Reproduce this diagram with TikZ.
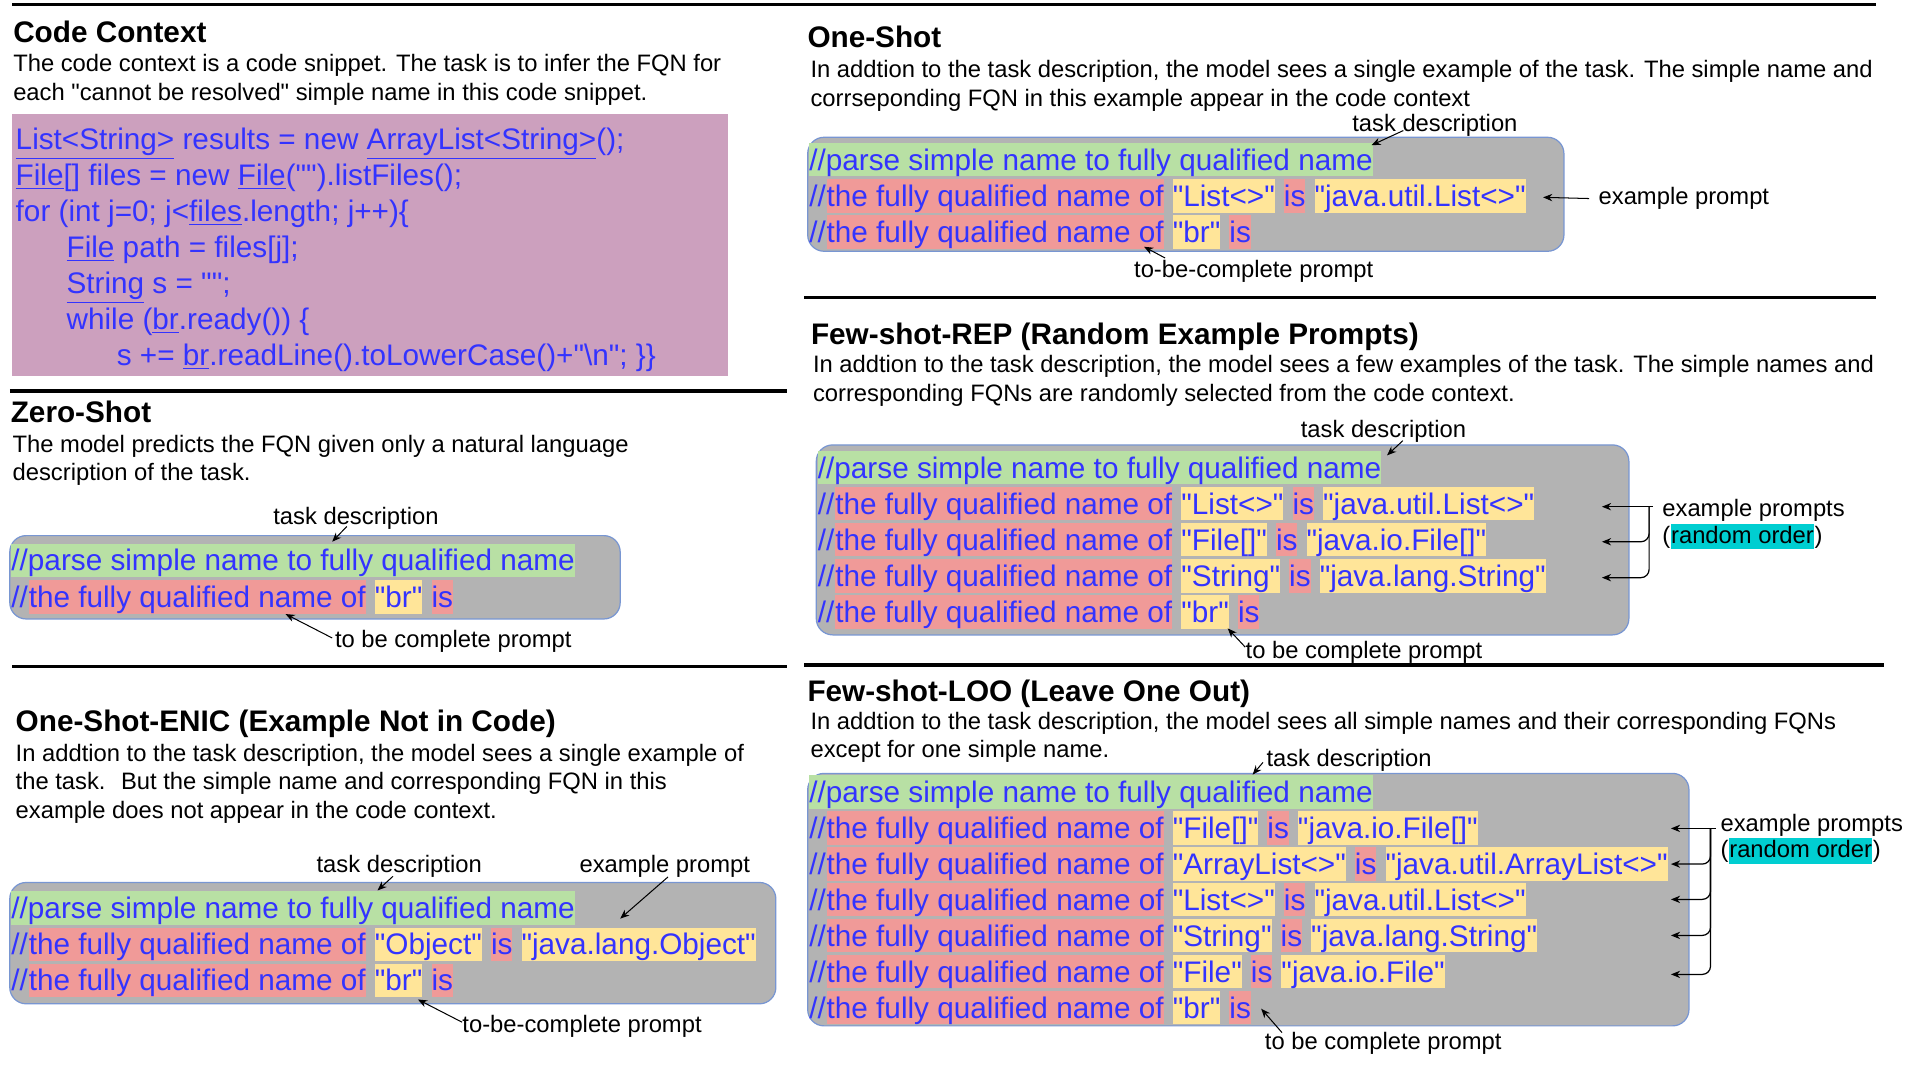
\documentclass[tikz,border=0pt]{standalone}
\usepackage{fontspec}
\setmainfont{Liberation Sans}[Ligatures=TeXOff]
\usetikzlibrary{arrows.meta}
\definecolor{codeblue}{RGB}{51,51,255}
\definecolor{codepink}{RGB}{204,160,190}
\definecolor{boxgray}{RGB}{179,179,179}
\definecolor{boxedge}{RGB}{120,150,210}
\definecolor{hlgreen}{RGB}{184,224,164}
\definecolor{hlpink}{RGB}{240,154,152}
\definecolor{hlyellow}{RGB}{255,229,153}
\definecolor{hlcyan}{RGB}{0,206,209}
\newcommand\bodyfont{\fontsize{11.64pt}{14pt}\selectfont}
\newcommand\bigfont{\fontsize{14.55pt}{17pt}\selectfont}
\def\gapw{4.05pt}
% task-description row
\newcommand{\trow}[3]{%
  \node[seggreen] (#1) at (#2,#3) {//parse simple name to fully qualified name};}
% example row
\newcommand{\exrow}[5]{%
  \node[segplain] (#1a) at (#2,#3) {//};
  \node[segpink] (#1b) at (#1a.base east) {the fully qualified name of};
  \node[segyel] (#1c) at ([xshift=\gapw]#1b.base east) {"#4"};
  \node[segpink] (#1d) at ([xshift=\gapw]#1c.base east) {is};
  \node[segyel] (#1e) at ([xshift=\gapw]#1d.base east) {"#5"};}
% to-be-completed row
\newcommand{\qrow}[4]{%
  \node[segplain] (#1a) at (#2,#3) {//};
  \node[segpink] (#1b) at (#1a.base east) {the fully qualified name of};
  \node[segyel] (#1c) at ([xshift=\gapw]#1b.base east) {"#4"};
  \node[segpink] (#1d) at ([xshift=\gapw]#1c.base east) {is};}
\begin{document}
\begin{tikzpicture}[x=0.6pt,y=-0.6pt,
  body/.style={font=\bodyfont, inner sep=0pt, anchor=base west},
  head/.style={font=\bigfont\bfseries, inner sep=0pt, anchor=base west},
  seg/.style={font=\bigfont, text=codeblue, inner sep=0pt, anchor=base west, text height=13.3pt, text depth=3pt},
  segplain/.style={seg},
  seggreen/.style={seg, fill=hlgreen},
  segpink/.style={seg, fill=hlpink},
  segyel/.style={seg, fill=hlyellow},
  codeline/.style={font=\bigfont, text=codeblue, inner sep=0pt, anchor=base west},
  graybox/.style={fill=boxgray, draw=boxedge, line width=0.6pt, rounded corners=8pt},
  sepline/.style={line width=1.6pt, black},
  arr/.style={-{Stealth[length=4.5pt,width=3.6pt]}, line width=0.5pt, black},
  bline/.style={line width=0.6pt, black, rounded corners=4pt},
]
\useasboundingbox (0,0) rectangle (1560,873);
\fill[white] (0,0) rectangle (1560,873);

% separators
\draw[sepline] (10,3.5) -- (1531,3.5);
\draw[sepline] (8,319) -- (642,319);
\draw[sepline] (10,543.5) -- (642,543.5);
\draw[sepline] (656,242.5) -- (1531,242.5);
\draw[sepline] (656,542.5) -- (1537,542.5);

% ---------------- Code Context ----------------
\node[head] (cc-h) at (10.5,34.8) {Code Context};
\node[body] (cc-d1) at (10.5,58.6) {The code context is a code snippet. The task is to infer the FQN for};
\node[body] (cc-d2) at (10.5,82) {each "cannot be resolved" simple name in this code snippet.};
\fill[codepink] (10,93) rectangle (594,307);
\node[codeline] (c1) at (12.5,122) {\underline{List<String>} results = new \underline{ArrayList<String>}();};
\node[codeline] (c2) at (12.5,151.3) {\underline{File}[] files = new \underline{File}("").listFiles();};
\node[codeline] (c3) at (12.5,180.6) {for (int j=0; j<\underline{files}.length; j++)\{};
\node[codeline] (c4) at (54,209.9) {\underline{File} path = files[j];};
\node[codeline] (c5) at (54,239.2) {\underline{String} s = "";};
\node[codeline] (c6) at (54,268.5) {while (\underline{br}.ready()) \{};
\node[codeline] (c7) at (95,297.8) {s += \underline{br}.readLine().toLowerCase()+"\textbackslash n"; \}\}};

% ---------------- Zero-Shot ----------------
\node[head] (zs-h) at (8.5,345) {Zero-Shot};
\node[body] (zs-d1) at (10,368.8) {The model predicts the FQN given only a natural language};
\node[body] (zs-d2) at (10,392.3) {description of the task.};
\node[body] (zs-td) at (222.7,428) {task description};
\draw[graybox] (8,437) rectangle (506,505);
\trow{z1}{9}{465.6}
\qrow{z2}{9}{495.7}{br}
\node[body] (zs-tc) at (273,528.5) {to be complete prompt};
\coordinate (zs-tdt) at (283,429.5);
\coordinate (zs-tdh) at (271,442);
\draw[arr] (zs-tdt) -- (zs-tdh);
\coordinate (zs-tct) at (271,520.5);
\coordinate (zs-tch) at (233,501);
\draw[arr] (zs-tct) -- (zs-tch);

% ---------------- One-Shot-ENIC ----------------
\node[head] (en-h) at (12.5,597) {One-Shot-ENIC (Example Not in Code)};
\node[body] (en-d1) at (12.5,621) {In addtion to the task description, the model sees a single example of};
\node[body] (en-d2) at (12.5,644.3) {the task.~ But the simple name and corresponding FQN in this};
\node[body] (en-d3) at (12.5,668) {example does not appear in the code context.};
\node[body] (en-td) at (258,711.5) {task description};
\node[body] (en-ex) at (472.5,711.5) {example prompt};
\draw[graybox] (8,720) rectangle (633,819);
\trow{e1}{9}{749.3}
\exrow{e2}{9}{778.9}{Object}{java.lang.Object}
\qrow{e3}{9}{808.3}{br}
\node[body] (en-tc) at (377,842.5) {to-be-complete prompt};
\coordinate (en-tdt) at (320.6,715);
\coordinate (en-tdh) at (308,726.5);
\draw[arr] (en-tdt) -- (en-tdh);
\coordinate (en-ext) at (545,715.5);
\coordinate (en-exh) at (506,749.5);
\draw[arr] (en-ext) -- (en-exh);
\coordinate (en-tct) at (377,834);
\coordinate (en-tch) at (341,815.5);
\draw[arr] (en-tct) -- (en-tch);

% ---------------- One-Shot ----------------
\node[head] (os-h) at (658.5,39) {One-Shot};
\node[body] (os-d1) at (661,63.5) {In addtion to the task description, the model sees a single example of the task. The simple name and};
\node[body] (os-d2) at (661,86.8) {corrseponding FQN in this example appear in the code context};
\node[body] (os-td) at (1103,107) {task description};
\draw[graybox] (659,112) rectangle (1276,205);
\trow{o1}{660}{139}
\exrow{o2}{660}{168.5}{List<>}{java.util.List<>}
\qrow{o3}{660}{197.8}{br}
\node[body] (os-ex) at (1304,167) {example prompt};
\node[body] (os-tc) at (925,226.5) {to-be-complete prompt};
\coordinate (os-tdt) at (1145,106.5);
\coordinate (os-tdh) at (1119,118.5);
\draw[arr] (os-tdt) -- (os-tdh);
\coordinate (os-exh) at (1259,161);
\draw[arr] ([xshift=-4.5pt]os-ex.west) -- (os-exh);
\coordinate (os-tct) at (950.6,210.5);
\coordinate (os-tch) at (933.4,201.3);
\draw[arr] (os-tct) -- (os-tch);

% ---------------- Few-shot-REP ----------------
\node[head] (rp-h) at (661.4,281) {Few-shot-REP (Random Example Prompts)};
\node[body] (rp-d1) at (663,304.3) {In addtion to the task description, the model sees a few examples of the task. The simple names and};
\node[body] (rp-d2) at (663,327.6) {corresponding FQNs are randomly selected from the code context.};
\node[body] (rp-td) at (1061,357.3) {task description};
\draw[graybox] (666,363) rectangle (1329,518);
\trow{p1}{667}{390}
\exrow{p2}{667}{419.5}{List<>}{java.util.List<>}
\exrow{p3}{667}{449}{File[]}{java.io.File[]}
\exrow{p4}{667}{478.5}{String}{java.lang.String}
\qrow{p5}{667}{507.8}{br}
\node[body] (rp-ex) at (1356,421) {example prompts};
\node[body] (rp-o1) at (1356,443.3) {(};
\node[body, fill=hlcyan, text height=9.6pt, text depth=3pt] (rp-ro) at (rp-o1.base east) {random order};
\node[body] (rp-o2) at (rp-ro.base east) {)};
\node[body] (rp-tc) at (1016,537) {to be complete prompt};
\coordinate (rp-tdt) at (1144.6,359.5);
\coordinate (rp-tdh) at (1131.7,371.5);
\draw[arr] (rp-tdt) -- (rp-tdh);
\coordinate (rp-b0) at (1348.7,413.4);
\coordinate (rp-bv) at (1345.5,413.4);
\coordinate (rp-a1) at (1307,413.4);
\coordinate (rp-a2) at (1307,442);
\coordinate (rp-a3) at (1307,471.3);
\draw[arr] (rp-b0) -- (rp-a1);
\draw[arr, bline] (rp-bv) |- (rp-a2);
\draw[arr, bline] (rp-bv) |- (rp-a3);
\coordinate (rp-tct) at (1016,528);
\coordinate (rp-tch) at (1001.7,512.7);
\draw[arr] (rp-tct) -- (rp-tch);

% ---------------- Few-shot-LOO ----------------
\node[head] (lo-h) at (658.5,572) {Few-shot-LOO (Leave One Out)};
\node[body] (lo-d1) at (661,595.3) {In addtion to the task description, the model sees all simple names and their corresponding FQNs};
\node[body] (lo-d2) at (661,618) {except for one simple name.};
\node[body] (lo-td) at (1033,625.3) {task description};
\draw[graybox] (659,631) rectangle (1378,837);
\trow{l1}{660}{654.8}
\exrow{l2}{660}{684.1}{File[]}{java.io.File[]}
\exrow{l3}{660}{713.4}{ArrayList<>}{java.util.ArrayList<>}
\exrow{l4}{660}{742.7}{List<>}{java.util.List<>}
\exrow{l5}{660}{772}{String}{java.lang.String}
\exrow{l6}{660}{801.3}{File}{java.io.File}
\qrow{l7}{660}{830.6}{br}
\node[body] (lo-ex) at (1403.5,678.3) {example prompts};
\node[body] (lo-o1) at (1403.5,700) {(};
\node[body, fill=hlcyan, text height=9.6pt, text depth=3pt] (lo-ro) at (lo-o1.base east) {random order};
\node[body] (lo-o2) at (lo-ro.base east) {)};
\node[body] (lo-tc) at (1031.7,856.5) {to be complete prompt};
\coordinate (lo-tdt) at (1030.5,622);
\coordinate (lo-tdh) at (1022,632);
\draw[arr] (lo-tdt) -- (lo-tdh);
\coordinate (lo-b0) at (1400,675.9);
\coordinate (lo-bv) at (1395.6,675.9);
\coordinate (lo-a1) at (1363.3,675.9);
\coordinate (lo-a2) at (1363.3,705);
\coordinate (lo-a3) at (1363.3,733.8);
\coordinate (lo-a4) at (1363.3,763.2);
\coordinate (lo-a5) at (1363.3,795);
\draw[arr] (lo-b0) -- (lo-a1);
\draw[arr, bline] (lo-bv) |- (lo-a2);
\draw[arr, bline] (lo-bv) |- (lo-a3);
\draw[arr, bline] (lo-bv) |- (lo-a4);
\draw[arr, bline] (lo-bv) |- (lo-a5);
\coordinate (lo-tct) at (1046,842.5);
\coordinate (lo-tch) at (1029,823);
\draw[arr] (lo-tct) -- (lo-tch);
\end{tikzpicture}
\end{document}
